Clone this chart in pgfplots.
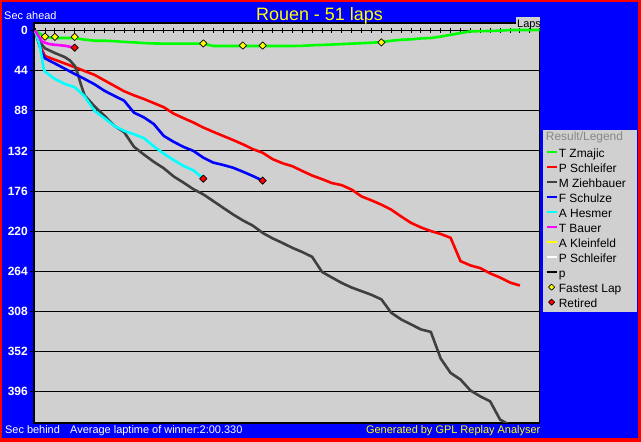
\documentclass[border=0pt]{standalone}
\usepackage{pgfplots}
\pgfplotsset{compat=1.18}
\usepackage{fontspec}
\setmainfont{Liberation Sans}
\definecolor{bgblue}{RGB}{0,0,255}
\definecolor{plotgray}{RGB}{208,208,208}
\definecolor{zgreen}{RGB}{0,255,0}
\definecolor{zred}{RGB}{255,0,0}
\definecolor{zblue}{RGB}{0,0,255}
\definecolor{zcyan}{RGB}{0,255,255}
\definecolor{zmagenta}{RGB}{255,0,255}
\definecolor{zyellow}{RGB}{255,255,0}
\definecolor{darkline}{RGB}{64,64,64}
\definecolor{legtitle}{RGB}{136,136,136}
\begin{document}
\begin{tikzpicture}[x=1bp,y=1bp]
\fill[zred] (0,0) rectangle (641,442);
\fill[bgblue] (2,3.5) rectangle (638,440);
\fill[plotgray] (542.7,130.3) rectangle (637,312);
\node[anchor=base west, inner sep=0pt, font=\fontsize{12}{12}\selectfont, text=legtitle] at (545.7,301) {Result/Legend};
\begin{axis}[
  at={(34.3,-20.9)}, anchor=south west,
  width=505.7bp, height=400bp, scale only axis,
  xmin=-0.12, xmax=51, ymin=-8.5, ymax=430.7, y dir=reverse,
  axis background/.style={fill=plotgray},
  axis line style={line width=1.2bp},
  xtick=\empty,
  ytick={0,44,...,396},
  ymajorgrids, grid style={black, line width=0.9bp},
  tick align=outside, major tick length=3.5bp, tick style={black, line width=0.9bp},
  ytick pos=left,
  yticklabel style={text=white, font=\bfseries\fontsize{12}{12}\selectfont, inner sep=0pt, xshift=-2.5bp},
  /pgf/number format/assume math mode=true,
  legend style={at={(1.0113,0.685)}, anchor=north west, fill=none, draw=none,
    inner sep=0pt, outer sep=0pt, row sep=0pt, column sep=1bp,
    font=\fontsize{12}{12}\selectfont,
    nodes={inner sep=0pt, text height=9bp, text depth=6bp}},
  legend cell align=left,
  legend image code/.code={\draw[#1, line width=2.5bp] (0bp,4.3bp) -- (10bp,4.3bp);},
  every axis plot/.append style={line width=2.6bp, line join=round},
]
\addlegendimage{zgreen}
\addlegendimage{zred}
\addlegendimage{darkline}
\addlegendimage{zblue}
\addlegendimage{zcyan}
\addlegendimage{zmagenta}
\addlegendimage{zyellow}
\addlegendimage{white}
\addlegendimage{black}
\addlegendimage{legend image code/.code={\draw[only marks, mark=square*, mark size=2.2bp, mark options={rotate=45, fill=zyellow, draw=black, line width=0.6bp}] plot coordinates {(5bp,4.3bp)};}}
\addlegendimage{legend image code/.code={\draw[only marks, mark=square*, mark size=2.2bp, mark options={rotate=45, fill=zred, draw=black, line width=0.6bp}] plot coordinates {(5bp,4.3bp)};}}
\legend{T Zmajic, P Schleifer, M Ziehbauer, F Schulze, A Hesmer, T Bauer, A Kleinfeld, P Schleifer, p, Fastest Lap, Retired}

\pgfplotsinvokeforeach{0,...,50}{\draw[black, line width=0.9bp] (axis cs:#1,-2.7) -- (axis cs:#1,2.7);}

% T Zmajic (winner)
\addplot[zgreen, forget plot] coordinates {
(0,0) (1,6.8) (2,8) (3,8) (4,8) (5,9.8) (6,11) (7,11) (8,11.5) (9,12.3) (10,12.8)
(11,13.6) (12,14) (13,14.2) (14,14.2) (15,14.2) (16,14.2) (17,14.2) (18,16.8) (19,16.8) (20,16.8)
(21,16.8) (22,16.8) (23,16.8) (24,16.8) (25,16.8) (26,16.8) (27,16.6) (28,16) (29,15.6) (30,15.2)
(31,14.7) (32,14.2) (33,13.7) (34,13.2) (35,12.6) (36,11) (37,10) (38,9.5) (39,8.5) (40,8)
(41,6.5) (42,4.5) (43,2.6) (44,0.7) (45,0.5) (46,0.3) (47,0) (48,-0.8) (49,-0.8) (50,-0.8) (51,-0.8)};

% P Schleifer
\addplot[zred, forget plot] coordinates {
(0,0) (0.4,14.7) (1,27.8) (2,31.9) (3,36) (4,40) (5,44.3) (6,48.5) (7,54.5) (8,60.5) (9,66.5)
(10,71) (11,75) (12,79.5) (13,84) (14,91) (15,96) (16,100.8) (17,106.3) (18,111) (19,115.5)
(20,120) (21,124.7) (22,130) (23,134) (24,141) (25,145.5) (26,148.8) (27,154) (28,159) (29,163)
(30,167.3) (31,169.6) (32,174.5) (33,182) (34,186.3) (35,191) (36,196.5) (37,204) (38,211) (39,216)
(40,220) (41,223.2) (42,227.4) (43,253) (44,257.7) (45,260.7) (46,266.5) (47,271) (48,276.5) (49,279.8)};

% M Ziehbauer
\addplot[darkline, forget plot] coordinates {
(0,0) (0.7,15.7) (1,19.4) (2,24.5) (3,29) (3.5,32.5) (4,38.5) (4.3,47) (4.6,58) (5,71) (5.5,77)
(6,83) (7,93.3) (8,104.3) (9,111.5) (10,127.5) (11,136) (12,144) (13,151) (14,160) (15,166.8)
(16,174) (17,179.7) (18,187) (19,194.4) (20,201.7) (21,208.3) (22,214) (23,222) (24,228) (25,233)
(26,238.4) (27,243) (28,248.3) (29,264.8) (30,271) (31,277) (32,282) (33,286) (34,290) (35,295)
(36,309.7) (37,317) (38,322.5) (39,328) (40,330.7) (41,360) (42,375.8) (43,383) (44,395) (45,401.5)
(46,407) (47,427) (48,433)};

% F Schulze
\addplot[zblue, forget plot] coordinates {
(0,0) (0.7,25) (1,30.4) (2,36) (3,41.7) (4,47.5) (5,53) (6,58.8) (7,65.9) (8,71.5) (9,76.9)
(10,90) (11,95.2) (12,102.5) (13,115.5) (14,122) (15,127.6) (16,132) (17,139.4) (18,144.8)
(19,147.4) (20,150.4) (21,154.8) (22,159.5) (23,164.6)};

% A Hesmer
\addplot[zcyan, forget plot] coordinates {
(0,0) (0.5,17.6) (0.86,41.4) (1,45) (2,53) (3,58.5) (4,62) (5,72) (5.6,81.6) (6,88) (7,96)
(8,104.5) (9,110) (10,113.7) (11,118) (12,127) (13,135) (14,142) (15,148.5) (16,153.3) (17,162.5)};

% T Bauer
\addplot[zmagenta, forget plot] coordinates {
(0,0) (0.7,12) (1.4,14.6) (2,15.5) (3,16.5) (4,18.7)};

% Fastest laps
\addplot[only marks, forget plot, mark=square*, mark size=2.6bp, mark options={rotate=45, fill=zyellow, draw=black, line width=0.7bp}] coordinates {
(1,6.5) (2,6.8) (4,6.8) (17,14) (21,16.3) (23,16.3) (35,12.8)};

% Retired
\addplot[only marks, forget plot, mark=square*, mark size=2.6bp, mark options={rotate=45, fill=zred, draw=black, line width=0.7bp}] coordinates {
(4,18.7) (17,162.5) (23,164.6)};
\end{axis}
\fill[plotgray] (516,413.7) rectangle (539.5,424.7);
\node[anchor=base west, inner sep=0pt, font=\fontsize{11}{11}\selectfont] at (517,414.7) {Laps};
\node[anchor=base, inner sep=0pt, text=zyellow, font=\fontsize{18}{18}\selectfont] at (319.5,421) {Rouen - 51 laps};
\node[anchor=base west, inner sep=0pt, text=white, font=\fontsize{11}{11}\selectfont] at (4,422) {Sec ahead};
\node[anchor=base west, inner sep=0pt, text=white, font=\fontsize{11}{11}\selectfont] at (4.9,8) {Sec behind};
\node[anchor=base west, inner sep=0pt, text=white, font=\fontsize{11}{11}\selectfont] at (70,8) {Average laptime of winner:2:00.330};
\node[anchor=base east, inner sep=0pt, text=zyellow, font=\fontsize{11}{11}\selectfont] at (540.5,8) {Generated by GPL Replay Analyser};
\pgfresetboundingbox
\useasboundingbox (0,0) rectangle (641,442);
\end{tikzpicture}
\end{document}
